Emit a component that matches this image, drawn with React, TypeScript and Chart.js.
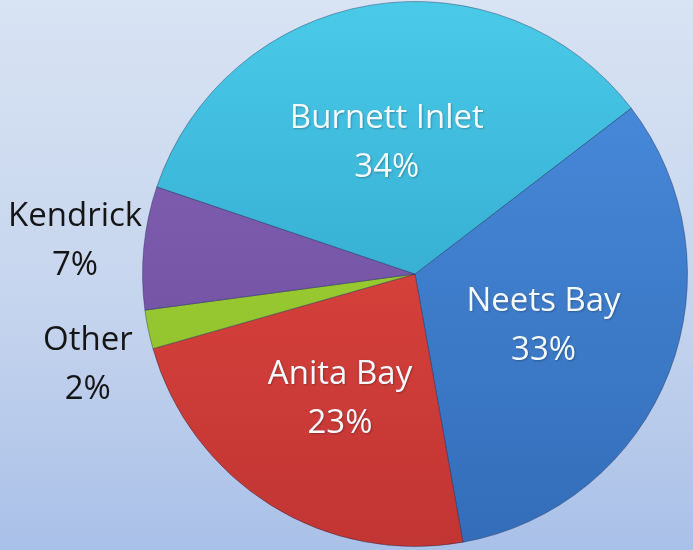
import React, { useEffect, useRef } from "react";
import { Chart, registerables } from "chart.js";

Chart.register(...registerables);

// Data (order: clockwise starting from the Burnett/Neets boundary)
const categories = ["Neets Bay", "Anita Bay", "Other", "Kendrick", "Burnett Inlet"];
const shares = [32.6, 23.4, 2.3, 7.3, 34.4];
const percentLabels = ["33%", "23%", "2%", "7%", "34%"];

// Styles
const lightColors = ["#4b8edf", "#e84c42", "#a9da3a", "#8665b7", "#4acae9"];
const darkColors = ["#336db9", "#c13533", "#88b827", "#6a4999", "#2597be"];
const labelColors = ["#f4faff", "#f4faff", "#151515", "#151515", "#f4faff"];
const labelRadiusFactor = [0.506, 0.53, 1.244, 1.254, 0.5];
const labelAngleOffsetDeg = [0, -0.7, -3.4, 0.3, -2.5];

const labelPlugin = {
  id: "sliceLabels",
  afterDatasetsDraw(chart: any) {
    const meta = chart.getDatasetMeta(0);
    const ctx = chart.ctx;
    ctx.save();
    ctx.font = '33px "Open Sans", sans-serif';
    ctx.textAlign = "center";
    ctx.textBaseline = "alphabetic";
    const gap = 49;
    const capH = 23;
    meta.data.forEach((arc: any, i: number) => {
      const p = arc.getProps(["x", "y", "startAngle", "endAngle", "outerRadius"], true);
      const mid = (p.startAngle + p.endAngle) / 2 + (labelAngleOffsetDeg[i] * Math.PI) / 180;
      const r = p.outerRadius * labelRadiusFactor[i];
      const cx = p.x + Math.cos(mid) * r;
      const cy = p.y + Math.sin(mid) * r;
      ctx.fillStyle = labelColors[i];
      if (labelColors[i] !== "#151515") {
        ctx.shadowColor = "rgba(0,0,0,0.25)";
        ctx.shadowBlur = 2;
        ctx.shadowOffsetX = 1;
        ctx.shadowOffsetY = 1;
      } else {
        ctx.shadowColor = "transparent";
      }
      ctx.fillText(categories[i], cx, cy - gap / 2 + capH / 2);
      ctx.fillText(percentLabels[i], cx, cy + gap / 2 + capH / 2);
    });
    ctx.restore();
  },
};

export default function App() {
  const ref = useRef<HTMLCanvasElement | null>(null);

  useEffect(() => {
    document.body.style.margin = "0";
    const canvas = ref.current;
    if (!canvas) return;
    const chart = new Chart(canvas, {
      type: "pie",
      data: {
        labels: categories,
        datasets: [
          {
            data: shares,
            backgroundColor: (c: any) => {
              const ch = c.chart;
              const area = ch.chartArea;
              const i = c.dataIndex;
              if (!area) return lightColors[i];
              const g = ch.ctx.createLinearGradient(0, area.top, 0, area.bottom);
              g.addColorStop(0, lightColors[i]);
              g.addColorStop(1, darkColors[i]);
              return g;
            },
            borderColor: "rgba(20,40,80,0.4)",
            borderWidth: 1,
          },
        ],
      },
      options: {
        responsive: false,
        animation: false,
        rotation: 52.5,
        layout: { padding: { left: 142, right: 5, top: 1, bottom: 3 } },
        plugins: {
          legend: { display: false },
          tooltip: { enabled: false },
        },
      },
      plugins: [labelPlugin],
    });
    return () => chart.destroy();
  }, []);

  return (
    <div
      style={{
        position: "fixed",
        left: 0,
        top: 0,
        width: 693,
        height: 550,
        background: "linear-gradient(180deg, #d8e3f3 0%, #c6d5ee 55%, #a9c0e8 100%)",
      }}
    >
      <canvas ref={ref} width={693} height={550} style={{ display: "block" }} />
    </div>
  );
}
